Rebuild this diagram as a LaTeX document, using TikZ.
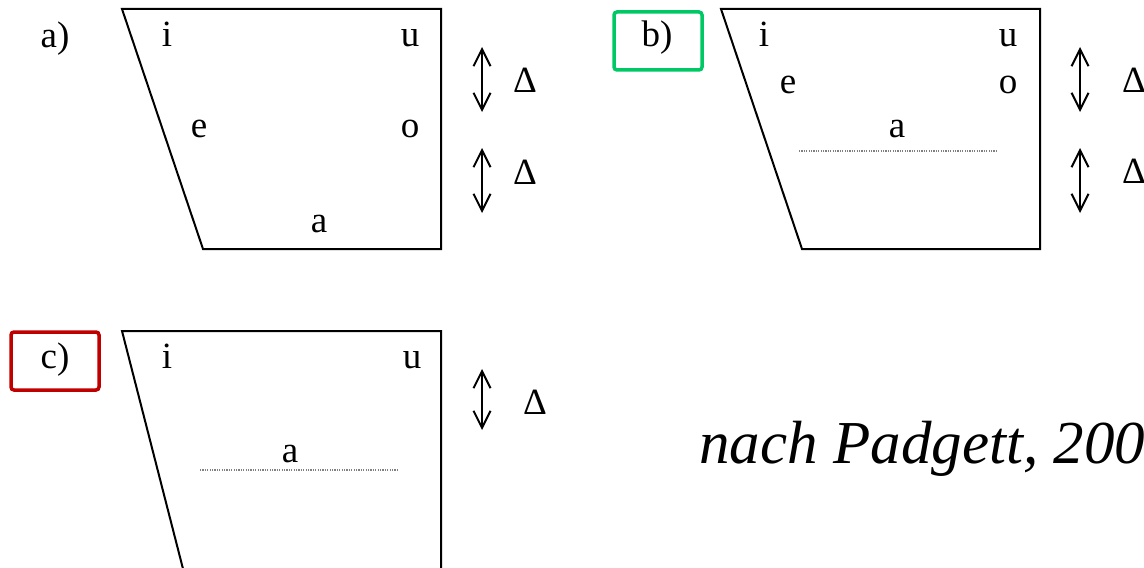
\documentclass[tikz,border=0pt]{standalone}
\usepackage{fontspec}
\setmainfont{Liberation Serif}
\usetikzlibrary{arrows.meta, positioning}
\definecolor{okgreen}{RGB}{0,200,100}
\definecolor{badred}{RGB}{192,0,0}

\begin{document}
\begin{tikzpicture}[
    x=0.5pt, y=-0.5pt,
    vowel/.style={
        anchor=base,
        inner sep=0pt,
        font=\fontsize{18.5}{22}\selectfont
    },
    panel/.style={
        anchor=base,
        inner sep=0pt,
        font=\fontsize{18.5}{22}\selectfont
    },
    delta/.style={
        anchor=base,
        inner sep=0pt,
        font=\fontsize{18.5}{22}\selectfont
    },
    space/.style={
        draw=black,
        line width=1pt,
        line join=miter
    },
    merge/.style={
        draw=gray,
        line width=0.6pt,
        dash pattern=on 0.6pt off 0.6pt
    },
    span/.style={
        {Straight Barb[length=8.5pt,width=8.5pt]}-{Straight Barb[length=8.5pt,width=8.5pt]},
        line width=1pt,
        draw=black
    },
    frame/.style={
        rectangle,
        line width=1.75pt,
        rounded corners=1.5pt,
        minimum width=44pt,
        minimum height=29pt,
        inner sep=0pt
    }
]

\useasboundingbox (0,0) rectangle (1144,567);
\clip (0,0) rectangle (1144,567);

% ============================================================
% a) five vowels, two equal steps
% ============================================================

\begin{scope}
    \coordinate (tl) at (122,9);
    \coordinate (tr) at (441,9);
    \coordinate (br) at (441,249);
    \coordinate (bl) at (203,249);
    \draw[space] (tl) -- (tr) -- (br) -- (bl) -- cycle;

    \node[panel] (la) at (55,48) {a)};

    \node[vowel] (ai) at (167,47)  {i};
    \node[vowel] (au) at (410,47)  {u};
    \node[vowel] (ae) at (199,137) {e};
    \node[vowel] (ao) at (410,137) {o};
    \node[vowel] (aa) at (319,232) {a};

    \foreach \k/\t/\b/\d in {1/47/112/93, 2/148/213/184} {
        \coordinate (at\k) at (482,\t);
        \coordinate (ab\k) at (482,\b);
        \draw[span] (at\k) -- (ab\k);
        \node[delta] (ad\k) at (525,\d) {Δ};
    }
\end{scope}

% ============================================================
% b) mid vowels raised, a higher
% ============================================================

\begin{scope}[shift={(599,0)}]
    \coordinate (tl) at (122,9);
    \coordinate (tr) at (441,9);
    \coordinate (br) at (441,249);
    \coordinate (bl) at (203,249);
    \draw[space] (tl) -- (tr) -- (br) -- (bl) -- cycle;

    \node[frame, draw=okgreen] (fb) at (59,41) {};
    \node[panel] (lb) at (58,47) {b)};

    \node[vowel] (bi) at (165,47)  {i};
    \node[vowel] (bu) at (409,47)  {u};
    \node[vowel] (be) at (189,94)  {e};
    \node[vowel] (bo) at (409,94)  {o};
    \node[vowel] (ba) at (298,137) {a};

    \coordinate (bml) at (200,151);
    \coordinate (bmr) at (398,151);
    \draw[merge] (bml) -- (bmr);

    \foreach \k/\t/\b/\d in {1/47/112/93, 2/148/213/183} {
        \coordinate (bt\k) at (481,\t);
        \coordinate (bb\k) at (481,\b);
        \draw[span] (bt\k) -- (bb\k);
        \node[delta] (bd\k) at (535,\d) {Δ};
    }
\end{scope}

% ============================================================
% c) three vowels, one step
% ============================================================

\begin{scope}
    \coordinate (ctl) at (122,331);
    \coordinate (ctr) at (441,331);
    \coordinate (cbr) at (441,600);
    \coordinate (cbl) at (191,600);
    \draw[space] (cbl) -- (ctl) -- (ctr) -- (cbr);

    \node[frame, draw=badred] (fc) at (55,361) {};
    \node[panel] (lc) at (55,368) {c)};

    \node[vowel] (ci) at (167,368) {i};
    \node[vowel] (cu) at (412,368) {u};
    \node[vowel] (ca) at (290,462) {a};

    \coordinate (cml) at (200,470);
    \coordinate (cmr) at (398,470);
    \draw[merge] (cml) -- (cmr);

    \coordinate (ct1) at (482,369);
    \coordinate (cb1) at (482,430);
    \draw[span] (ct1) -- (cb1);
    \node[delta] (cd1) at (535,414) {Δ};
\end{scope}

% ============================================================
% source
% ============================================================

\node[anchor=base west, inner sep=0pt,
      font=\fontsize{30.5}{36}\selectfont\itshape] (src) at (699,463) {nach Padgett, 200};
\end{tikzpicture}
\end{document}
